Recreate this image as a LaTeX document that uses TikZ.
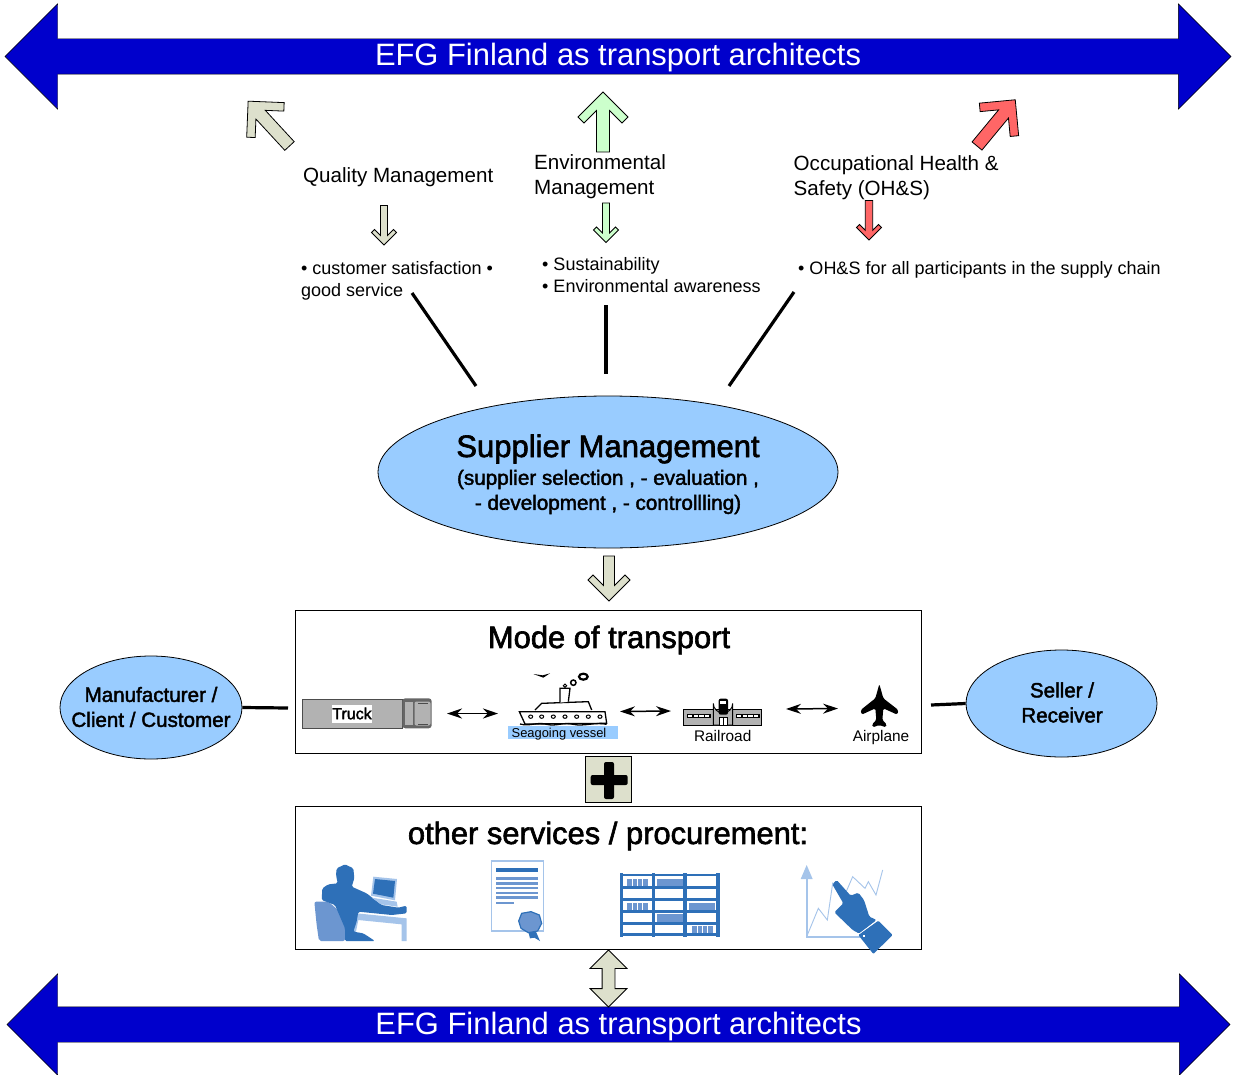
\documentclass[tikz,border=0pt]{standalone}
\usepackage{fontspec}
\usepackage{tikz}
\usepackage{xcolor}
\usetikzlibrary{shapes,arrows,positioning,calc,arrows.meta}
\setmainfont{Liberation Sans}
\newfontfamily\heavyfont[FakeBold=2]{Liberation Sans}
\definecolor{bannerblue}{RGB}{0,0,204}
\definecolor{skyblue}{RGB}{153,204,255}
\definecolor{qualitybeige}{RGB}{221,224,204}
\definecolor{envgreen}{RGB}{204,255,204}
\definecolor{safetyred}{RGB}{255,102,102}
\definecolor{icondark}{RGB}{46,112,184}
\definecolor{iconmid}{RGB}{108,150,208}
\definecolor{iconlight}{RGB}{165,196,234}
\definecolor{truckgray}{RGB}{178,178,178}
\tikzset{
    banner/.style={draw=black, fill=bannerblue, text=white, double arrow, double arrow head extend=#1, double arrow tip angle=90, inner xsep=0pt, inner ysep=0pt, text height=27pt, text depth=8pt, minimum width=35pt+2*#1, font=\fontsize{30.9}{31}\selectfont},
    caption/.style={inner sep=0pt, align=left, font=\fontsize{20.6}{25}\selectfont},
    bullets/.style={inner sep=0pt, align=left, font=\fontsize{18}{22}\selectfont},
    tiny label/.style={inner sep=0pt, font=\fontsize{15.4}{15.4}\selectfont},
    bubble/.style={draw=black, fill=skyblue, ellipse, inner sep=0pt, align=center, line width=0.8pt},
    modebox/.style={draw=black, fill=white, line width=1pt},
    heavy/.style={font=\heavyfont\fontsize{#1}{#1}\selectfont, inner sep=0pt, align=center},
    stalk/.style={line width=3.2pt},
    hop/.style={line width=1.5pt, {Stealth[length=15pt,width=10pt]}-{Stealth[length=15pt,width=10pt]}},
    barbline/.style={draw=black, line width=0.8pt, line join=miter}
}
% tail, angle, length, head half width, shaft half width, barb, colour
\newcommand{\barbarrow}[7]{%
    \draw[barbline, fill=#7, shift={#1}, rotate=#2]
        (0,#5) -- ({#3-2*#6-#5},#5) -- ({#3-#4-#6},{#4-#6}) -- ({#3-#4},#4) -- (#3,0)
        -- ({#3-#4},-#4) -- ({#3-#4-#6},{-#4+#6}) -- ({#3-2*#6-#5},-#5) -- (0,-#5) -- cycle;
}
\begin{document}
\begin{tikzpicture}[x=1pt, y=-1pt]
    \useasboundingbox (0,0) rectangle (1233,1075);

    % Banners
    \node[banner=35pt, minimum height=1226pt] (topbanner) at (618,56.5) {EFG Finland as transport architects};
    \node[banner=33pt, minimum height=1223pt] (bottombanner) at (618.5,1024.5) {EFG Finland as transport architects};

    % Arrows towards the top banner
    \barbarrow{(289.5,146)}{132.7}{61}{25.5}{6.4}{6}{qualitybeige}
    \barbarrow{(603,152)}{90}{60}{25}{6.5}{6}{envgreen}
    \barbarrow{(977,146)}{50.4}{60}{25.5}{6.4}{6}{safetyred}

    % Titles
    \node[caption, anchor=west] (quality) at (303,177.5) {Quality Management};
    \node[caption, anchor=west] (environment) at (534,177) {Environmental\\Management};
    \node[caption, anchor=west] (safety) at (793.5,177.5) {Occupational Health \&\\Safety (OH\&S)};

    % Arrows below the titles
    \barbarrow{(384,205.5)}{-90}{39.5}{12.5}{3.5}{3}{qualitybeige}
    \barbarrow{(606,203)}{-90}{39.5}{12.5}{3.5}{3}{envgreen}
    \barbarrow{(869,200.5)}{-90}{39.5}{12.5}{3.7}{3}{safetyred}

    % Bullets
    \node[bullets, anchor=west] (qualitylist) at (301,281) {• customer satisfaction •\\good service};
    \node[bullets, anchor=west] (envlist) at (542,275.5) {• Sustainability\\• Environmental awareness};
    \node[bullets, anchor=west] (safetylist) at (798,270) {• OH\&S for all participants in the supply chain};

    % Supplier ellipse
    \node[bubble, minimum width=460pt, minimum height=152pt] (supplier) at (608,472) {};
    \node[heavy=31] (suppliertitle) at (608,449) {Supplier Management};
    \node[heavy=21, below=6pt of suppliertitle, font=\heavyfont\fontsize{20.65}{25}\selectfont] (suppliertext) {(supplier selection , - evaluation ,\\- development , - controllling)};

    \coordinate (qualityfoot) at (412,293);
    \coordinate (qualityroot) at (476,386);
    \coordinate (envfoot) at (606,305);
    \coordinate (envroot) at (606,374);
    \coordinate (safetyfoot) at (794,292);
    \coordinate (safetyroot) at (729,386);
    \draw[stalk] (qualityfoot) -- (qualityroot);
    \draw[stalk] (envfoot) -- (envroot);
    \draw[stalk] (safetyfoot) -- (safetyroot);

    \barbarrow{(609,556)}{-90}{45}{21}{5.5}{5}{qualitybeige}

    % Mode of transport
    \node[modebox, minimum width=626pt, minimum height=143pt] (modes) at (608.5,682) {};
    \node[heavy=30.9] (modestitle) at (609,640) {Mode of transport};

    % Truck
    \fill[truckgray, draw=black!70] (302.3,699) rectangle (401.7,727.7);
    \fill[black!60, rounded corners=3pt] (402.3,698.3) rectangle (431.7,728.3);
    \fill[truckgray] (405,702) rectangle (412.5,725);
    \fill[truckgray, rounded corners=2pt] (414.5,701.5) rectangle (430.5,725.5);
    \draw[black!70, line width=0.6pt] (418,703) -- (428,703) (418,724) -- (428,724);
    \node[heavy=16, fill=white, minimum width=39pt, minimum height=18pt] (truck) at (352,713.5) {Truck};

    % Seagoing vessel
    \node[fill=skyblue, minimum width=110pt, minimum height=13.5pt, inner sep=0pt] (vesselband) at (563.3,732.5) {};
    \node[inner sep=0pt, font=\fontsize{12.9}{12.9}\selectfont] (vessel) at (559,734.5) {Seagoing vessel};
    \begin{scope}[shift={(290,660)}, scale=1/3]
        \draw[black, line width=1.3pt, fill=white] (688,155) -- (945,155) -- (950,190) -- (705,192) -- cycle;
        \draw[black, line width=1.3pt, fill=white] (735,150) -- (755,130) -- (895,125) -- (905,150);
        \draw[black, line width=1.3pt, fill=white] (810,128) -- (810,85) -- (840,85) -- (835,125);
        \foreach \x in {722,755,790,825,860,895,930} {
            \draw[black, line width=1pt, fill=white] (\x,170) ellipse (6 and 5);
        }
        \draw[black, line width=1.3pt] (690,192) .. controls (720,200) and (740,185) .. (770,193) .. controls (800,200) and (820,185) .. (850,193) .. controls (880,200) and (920,185) .. (950,193);
        \draw[black, line width=1pt] (825,77) circle (5);
        \draw[black, line width=1.5pt] (850,68) circle (8);
        \draw[black, line width=2.2pt] (880,50) ellipse (13 and 9);
        \fill[black] (730,42) -- (758,46) -- (780,40) -- (760,53) -- cycle;
    \end{scope}

    % Railroad
    \begin{scope}[shift={(620,670)}, scale=1/3]
        \fill[truckgray, draw=black, line width=0.6pt] (190,118) rectangle (425,165);
        \fill[truckgray, draw=black, line width=0.9pt] (280,165) -- (280,100) arc (180:0:29) -- (338,165) -- cycle;
        \fill[black, rounded corners=2pt] (296,86) rectangle (324,134);
        \fill[white] (301,93) rectangle (319,103);
        \fill[white] (297,143) rectangle (322,165);
        \draw[black, line width=0.5pt] (297,143) rectangle (322,165) (309,143) -- (309,165);
        \foreach \x in {200,347} {
            \fill[black] (\x,132) rectangle ++(72,11);
            \foreach \i in {0,1,2,3} {
                \fill[white] ({\x+4+17*\i},134.5) rectangle ++(13,6);
            }
        }
    \end{scope}
    \node[tiny label] (railroad) at (722.7,736) {Railroad};

    % Airplane
    \begin{scope}[shift={(620,670)}, scale=1/3]
        \fill[black, rounded corners=1.5pt] (778,42) -- (790,85) -- (835,120) -- (832,134) -- (790,115) -- (787,150) -- (800,163) -- (798,172) -- (778,165) -- (758,172) -- (756,163) -- (769,150) -- (766,115) -- (725,134) -- (722,120) -- (766,85) -- cycle;
    \end{scope}
    \node[tiny label] (airplane) at (881,738) {Airplane};

    % Hops between the modes
    \coordinate (hopa) at (447,713.5);
    \coordinate (hopb) at (498,713.5);
    \coordinate (hopc) at (620,711.5);
    \coordinate (hopd) at (671,711);
    \coordinate (hope) at (786,709);
    \coordinate (hopf) at (838,708.5);
    \draw[hop] (hopa) -- (hopb);
    \draw[hop] (hopc) -- (hopd);
    \draw[hop] (hope) -- (hopf);

    % Side ellipses
    \node[bubble, minimum width=182pt, minimum height=103pt] (client) at (151,707.5) {};
    \node[heavy=20, font=\heavyfont\fontsize{20.6}{25}\selectfont] (clienttext) at (151,707) {Manufacturer /\\Client / Customer};
    \node[bubble, minimum width=191pt, minimum height=107pt] (seller) at (1061.5,703.5) {};
    \node[heavy=20, font=\heavyfont\fontsize{20.6}{25}\selectfont] (sellertext) at (1062,702.5) {Seller /\\Receiver};
    \coordinate (clientfoot) at (288,708);
    \coordinate (sellerfoot) at (931,705);
    \draw[stalk] (client.east) -- (clientfoot);
    \draw[stalk] (seller.west) -- (sellerfoot);

    % Plus
    \node[draw=black, fill=qualitybeige, minimum width=46pt, minimum height=46pt, line width=0.8pt] (plus) at (608,779.2) {};
    \fill[black, rounded corners=2pt] (604,762) rectangle (614,799);
    \fill[black, rounded corners=2pt] (590.7,775) rectangle (627.7,785);

    % Other services
    \node[modebox, minimum width=626pt, minimum height=143pt] (services) at (608.5,878) {};
    \node[heavy=30.9] (servicestitle) at (608,836) {other services / procurement:};

    % Office worker
    \begin{scope}[shift={(295,855)}, scale=1/3]
        \fill[iconlight] (185,175) -- (335,190) -- (335,258) -- (320,258) -- (320,208) -- (190,195) -- (182,235) -- (175,235) -- cycle;
        \fill[iconmid, rounded corners=2pt] (58,140) -- (100,140) -- (135,170) -- (150,215) -- (150,258) -- (72,258) -- (65,210) -- cycle;
        \fill[icondark, rounded corners=1.5pt] (125,40) -- (150,28) -- (175,40) -- (178,70) -- (170,95) -- (215,115) -- (260,150) -- (310,158) -- (335,152) -- (335,175) -- (290,180) -- (190,170) -- (185,200) -- (175,230) -- (205,235) -- (240,258) -- (150,258) -- (150,220) -- (120,150) -- (80,135) -- (82,100) -- (100,88) -- (128,85) -- (123,60) -- cycle;
        \fill[iconlight] (235,65) -- (306,72) -- (300,136) -- (228,122) -- cycle;
        \fill[icondark] (240,72) -- (300,78) -- (295,128) -- (234,116) -- cycle;
        \fill[iconlight] (230,128) -- (305,140) -- (308,155) -- (258,148) -- cycle;
    \end{scope}

    % Certificate
    \begin{scope}[shift={(295,855)}, scale=1/3]
        \draw[iconlight, line width=1.2pt, fill=white] (590,18) rectangle (746,228);
        \fill[icondark] (604,38) rectangle (730,51);
        \foreach \y in {67,82,96,110,124} {
            \fill[iconmid] (604,\y) rectangle (730,{\y+7});
        }
        \fill[iconmid] (604,140) rectangle (658,147);
        \fill[icondark] (700,230) -- (722,228) -- (735,258) -- (718,248) -- (705,250) -- cycle;
        \draw[icondark, line width=1.2pt, fill=iconmid] (680,175) -- (708,170) -- (733,180) -- (740,205) -- (728,228) -- (700,233) -- (678,220) -- (671,198) -- cycle;
    \end{scope}

    % Shelves
    \begin{scope}[shift={(610,855)}, scale=1/3]
        \foreach \x/\w/\y/\h in {52/63/73/22, 140/78/73/22, 52/61/143/22, 237/79/143/22, 140/78/178/22, 245/63/213/22} {
            \fill[iconmid] (\x,\y) rectangle ++(\w,\h);
        }
        \foreach \x/\y in {52/73, 52/143, 245/213} {
            \foreach \i in {1,2,3} {
                \fill[white] ({\x+15*\i},\y) rectangle ++(2.5,22);
            }
        }
        \foreach \y in {60,97,133,170,205,238} {
            \draw[icondark, line width=2.8pt] (34,\y) -- (324,\y);
        }
        \foreach \x in {34,130,225,324} {
            \draw[icondark, line width=3.6pt] (\x,55) -- (\x,247);
        }
    \end{scope}

    % Pointing hand on a chart
    \begin{scope}[shift={(610,855)}, scale=1/3]
        \draw[iconlight, line width=1.8pt] (590,60) -- (590,245) -- (760,245);
        \fill[iconlight] (572,72) -- (590,30) -- (608,72) -- cycle;
        \draw[iconlight, line width=0.9pt] (590,245) -- (625,160) -- (652,195) -- (668,85) -- (700,130) -- (728,65) -- (765,100) -- (775,80) -- (798,120) -- (818,45);
        \fill[icondark, rounded corners=1.5pt] (667,88) -- (680,75) -- (722,122) -- (745,113) -- (762,135) -- (778,185) -- (800,195) -- (748,236) -- (728,225) -- (673,172) -- (700,145) -- cycle;
        \fill[icondark, rounded corners=1pt] (745,240) -- (805,197) -- (848,240) -- (790,297) -- cycle;
        \fill[white] (758,240) rectangle ++(7,7);
        \draw[white, line width=0.6pt] (748,236) -- (802,196);
    \end{scope}

    % Double arrow to the bottom banner
    \node[draw=black, fill=qualitybeige, double arrow, double arrow head extend=12pt, double arrow tip angle=90, rotate=90, minimum height=57pt, minimum width=36pt, inner xsep=0pt, inner ysep=6pt, line width=0.8pt] (linkarrow) at (608.5,978.5) {};
\end{tikzpicture}
\end{document}
